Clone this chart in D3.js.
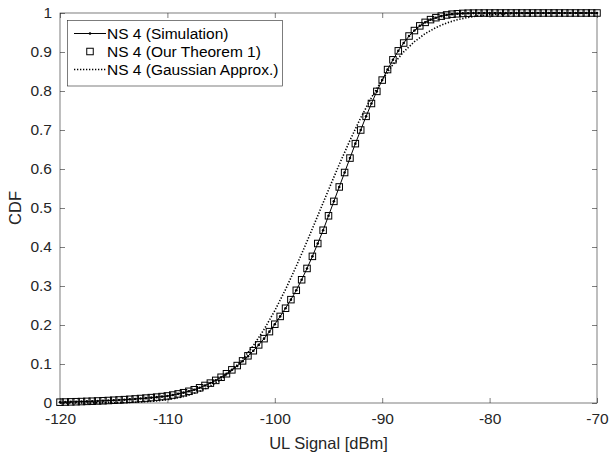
<!DOCTYPE html>
<html>
<head>
<meta charset="utf-8">
<script src="https://cdn.jsdelivr.net/npm/d3@7"></script>
<style>
  html, body { margin: 0; padding: 0; background: #fff; }
  svg { display: block; font-family: "Liberation Sans", Arial, sans-serif; }
</style>
</head>
<body>
<svg id="chart" width="610" height="459"></svg>
<script>
// UL signal grid (dBm), 0.5 dB steps
const signal = [
  -120,-119.5,-119,-118.5,-118,-117.5,-117,-116.5,-116,-115.5,
  -115,-114.5,-114,-113.5,-113,-112.5,-112,-111.5,-111,-110.5,
  -110,-109.5,-109,-108.5,-108,-107.5,-107,-106.5,-106,-105.5,
  -105,-104.5,-104,-103.5,-103,-102.5,-102,-101.5,-101,-100.5,
  -100,-99.5,-99,-98.5,-98,-97.5,-97,-96.5,-96,-95.5,
  -95,-94.5,-94,-93.5,-93,-92.5,-92,-91.5,-91,-90.5,
  -90,-89.5,-89,-88.5,-88,-87.5,-87,-86.5,-86,-85.5,
  -85,-84.5,-84,-83.5,-83,-82.5,-82,-81.5,-81,-80.5,
  -80,-79.5,-79,-78.5,-78,-77.5,-77,-76.5,-76,-75.5,
  -75,-74.5,-74,-73.5,-73,-72.5,-72,-71.5,-71,-70.5,
  -70
];

// NS 4 empirical CDF (simulation)
const simCdf = [
  0.002,0.0025,0.003,0.0033,0.0037,0.0041,0.0046,0.0051,0.0057,0.0063,
  0.0070,0.0077,0.0085,0.0094,0.0104,0.0114,0.0125,0.0137,0.0150,0.0164,
  0.0180,0.0205,0.0235,0.0265,0.030,0.034,0.039,0.045,0.051,0.058,
  0.066,0.075,0.085,0.095,0.107,0.120,0.134,0.149,0.165,0.183,
  0.202,0.222,0.243,0.265,0.289,0.316,0.345,0.376,0.409,0.443,
  0.480,0.517,0.554,0.591,0.628,0.665,0.700,0.735,0.768,0.799,
  0.828,0.855,0.880,0.903,0.923,0.941,0.955,0.967,0.976,0.983,
  0.988,0.992,0.995,0.997,0.998,0.999,0.9995,0.9997,0.9998,0.9999,
  0.9999,1,1,1,1,1,1,1,1,1,
  1,1,1,1,1,1,1,1,1,1,
  1
];

// NS 4 analytical CDF (Theorem 1)
const theoremCdf = [
  0.0021,0.0025,0.0029,0.0033,0.0037,0.0042,0.0046,0.0052,0.0057,0.0064,
  0.0071,0.0078,0.0086,0.0095,0.0104,0.0115,0.0126,0.0138,0.0151,0.0165,
  0.0181,0.0204,0.0233,0.0264,0.030,0.034,0.039,0.045,0.051,0.058,
  0.066,0.075,0.085,0.096,0.108,0.121,0.134,0.149,0.165,0.183,
  0.202,0.222,0.243,0.265,0.289,0.316,0.345,0.376,0.409,0.443,
  0.480,0.517,0.554,0.591,0.628,0.665,0.700,0.735,0.768,0.799,
  0.828,0.855,0.880,0.903,0.923,0.941,0.955,0.967,0.976,0.983,
  0.988,0.992,0.995,0.997,0.998,0.999,0.9995,0.9997,0.9998,0.9999,
  0.9999,1,1,1,1,1,1,1,1,1,
  1,1,1,1,1,1,1,1,1,1,
  1
];

// Gaussian approximation, 1 dB steps
const gaussSignal = [
  -120,-119,-118,-117,-116,-115,-114,-113,-112,-111,
  -110,-109,-108,-107,-106,-105,-104,-103,-102,-101,
  -100,-99,-98,-97,-96,-95,-94,-93,-92,-91,
  -90,-89,-88,-87,-86,-85,-84,-83,-82,-81,
  -80,-79,-78,-77,-76,-75,-74,-73,-72,-71,
  -70
];
const gaussCdf = [
  0.00003,0.00005,0.0001,0.0002,0.00036,0.00065,0.0011,0.0020,0.0033,0.0054,
  0.0086,0.0133,0.0202,0.0298,0.0430,0.0606,0.0833,0.1118,0.1469,0.1886,
  0.2368,0.2912,0.3508,0.4143,0.4801,0.5465,0.6115,0.6736,0.7313,0.7833,
  0.8289,0.8679,0.9003,0.9265,0.9470,0.9627,0.9744,0.9829,0.9888,0.9929,
  0.9956,0.9973,0.9984,0.9991,0.9995,0.9997,0.9998,0.9999,0.9999,1,
  1
];

const xTicks = [-120, -110, -100, -90, -80, -70];
const yTicks = [0, 0.1, 0.2, 0.3, 0.4, 0.5, 0.6, 0.7, 0.8, 0.9, 1];
const legendLabels = ["NS 4 (Simulation)", "NS 4 (Our Theorem 1)", "NS 4 (Gaussian Approx.)"];

const svg = d3.select("#chart");
const plotLeft = 60, plotRight = 597, plotTop = 13, plotBottom = 403;
const axisColor = "#262626";
const tickFont = 15.5, labelFont = 16.5, legendFont = 15.5;

const x = d3.scaleLinear().domain([-120, -70]).range([plotLeft, plotRight]);
const y = d3.scaleLinear().domain([0, 1]).range([plotBottom, plotTop]);

// axes box with inward ticks on all four sides
const tickLen = 5;
const g = svg.append("g");

g.append("g").attr("transform", `translate(0,${plotBottom})`)
  .call(d3.axisBottom(x).tickValues(xTicks).tickSize(-tickLen).tickPadding(10).tickFormat(d => String(d)))
  .call(a => a.select(".domain").remove());
g.append("g").attr("transform", `translate(0,${plotTop})`)
  .call(d3.axisTop(x).tickValues(xTicks).tickSize(-tickLen).tickFormat(""))
  .call(a => a.select(".domain").remove());
g.append("g").attr("transform", `translate(${plotLeft},0)`)
  .call(d3.axisLeft(y).tickValues(yTicks).tickSize(-tickLen).tickPadding(8).tickFormat(d => String(+d.toFixed(1))))
  .call(a => a.select(".domain").remove());
g.append("g").attr("transform", `translate(${plotRight},0)`)
  .call(d3.axisRight(y).tickValues(yTicks).tickSize(-tickLen).tickFormat(""))
  .call(a => a.select(".domain").remove());

g.selectAll(".tick line").attr("stroke", axisColor).attr("stroke-width", 0.6);
g.selectAll(".tick text").attr("fill", axisColor).style("font-size", tickFont + "px")
  .style("font-family", "'Liberation Sans', Arial, sans-serif");

g.append("rect")
  .attr("x", plotLeft).attr("y", plotTop)
  .attr("width", plotRight - plotLeft).attr("height", plotBottom - plotTop)
  .attr("fill", "none").attr("stroke", axisColor).attr("stroke-width", 0.6);

// axis titles
svg.append("text")
  .attr("x", (plotLeft + plotRight) / 2).attr("y", 449)
  .attr("text-anchor", "middle").attr("fill", axisColor)
  .style("font-size", labelFont + "px")
  .text("UL Signal [dBm]");
svg.append("text")
  .attr("transform", `translate(21,${(plotTop + plotBottom) / 2}) rotate(-90)`)
  .attr("text-anchor", "middle").attr("fill", axisColor)
  .style("font-size", labelFont + "px")
  .text("CDF");

const plot = svg.append("g");
const line = d3.line().x(d => x(d[0])).y(d => y(d[1]));

const gaussData = gaussSignal.map((s, i) => [s, gaussCdf[i]]);
const simData = signal.map((s, i) => [s, simCdf[i]]);
const thData = signal.map((s, i) => [s, theoremCdf[i]]);

// Gaussian approximation: dotted
plot.append("path").datum(gaussData)
  .attr("d", line).attr("fill", "none")
  .attr("stroke", "#000").attr("stroke-width", 1.6)
  .attr("stroke-dasharray", "1.3,1.7");

// Simulation: solid line with point markers
plot.append("path").datum(simData)
  .attr("d", line).attr("fill", "none")
  .attr("stroke", "#000").attr("stroke-width", 1);
plot.selectAll(".simDot").data(simData).join("circle")
  .attr("cx", d => x(d[0])).attr("cy", d => y(d[1]))
  .attr("r", 1.3).attr("fill", "#000");

// Theorem 1: open squares
const sq = 6.5;
plot.selectAll(".thSq").data(thData).join("rect")
  .attr("x", d => x(d[0]) - sq / 2).attr("y", d => y(d[1]) - sq / 2)
  .attr("width", sq).attr("height", sq)
  .attr("fill", "none").attr("stroke", "#000").attr("stroke-width", 1);

// legend
const lg = svg.append("g");
const lx = 67.5, ly = 20.5, lw = 215, lh = 65.5;
lg.append("rect").attr("x", lx).attr("y", ly).attr("width", lw).attr("height", lh)
  .attr("fill", "#fff").attr("stroke", axisColor).attr("stroke-width", 0.6);
const rows = [33.5, 51.5, 69.5];
const s0 = 74, s1 = 106, sm = (s0 + s1) / 2;
lg.append("line").attr("x1", s0).attr("x2", s1).attr("y1", rows[0]).attr("y2", rows[0])
  .attr("stroke", "#000").attr("stroke-width", 1);
lg.append("circle").attr("cx", sm).attr("cy", rows[0]).attr("r", 1.3).attr("fill", "#000");
lg.append("rect").attr("x", sm - sq / 2).attr("y", rows[1] - sq / 2).attr("width", sq).attr("height", sq)
  .attr("fill", "none").attr("stroke", "#000").attr("stroke-width", 1);
lg.append("line").attr("x1", s0).attr("x2", s1).attr("y1", rows[2]).attr("y2", rows[2])
  .attr("stroke", "#000").attr("stroke-width", 1.6).attr("stroke-dasharray", "1.3,1.7");
lg.selectAll(".lt").data(legendLabels).join("text")
  .attr("x", 107).attr("y", (d, i) => rows[i])
  .attr("dy", "0.35em").attr("fill", "#000")
  .style("font-size", legendFont + "px")
  .text(d => d);
</script>
</body>
</html>
